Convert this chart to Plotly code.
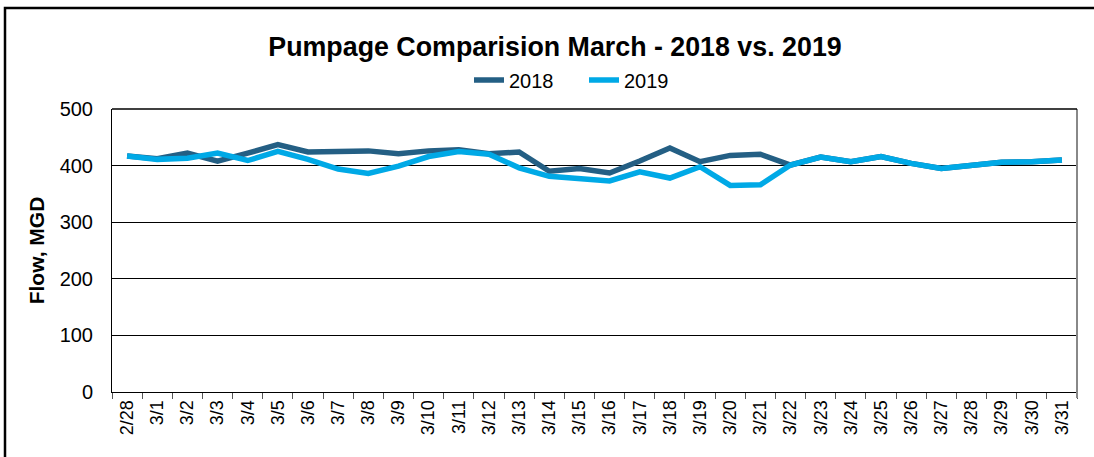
import plotly.graph_objects as go

dates = ["2/28"] + [f"3/{d}" for d in range(1, 32)]

flow_2018 = [417, 412, 422, 408, 422, 437, 424, 426, 426, 421, 426, 428, 421, 424,
             390, 395, 387, 408, 431, 407, 418, 420, 401, 415, 407, 416, 404, 395,
             401, 406, 407, 410]
flow_2019 = [417, 411, 413, 422, 409, 425, 411, 394, 386, 399, 416, 425, 420, 396,
             381, 377, 373, 389, 378, 398, 365, 366, 401, 415, 407, 416, 404, 395,
             401, 406, 407, 410]

y_ticks = [0, 100, 200, 300, 400, 500]

FONT = "Liberation Sans, Arial, sans-serif"

W, H = 1094, 457
L, R, T, B = 112, 1077, 109, 392
pw, ph = R - L, B - T

def px(x):
    return (x - L) / pw

def py(y):
    return (B - y) / ph

fig = go.Figure()
fig.add_trace(go.Scatter(x=dates, y=flow_2018, name="2018", mode="lines",
                         line=dict(color="#245F84", width=5.5), legend="legend"))
fig.add_trace(go.Scatter(x=dates, y=flow_2019, name="2019", mode="lines",
                         line=dict(color="#00A9E6", width=5.5), legend="legend2"))

leg_common = dict(orientation="h", yanchor="middle", y=py(80), xanchor="center",
                  font=dict(family=FONT, size=20, color="black"),
                  bgcolor="rgba(0,0,0,0)", tracegroupgap=0)

fig.update_layout(
    width=W, height=H,
    margin=dict(l=L, r=W - R, t=T, b=H - B, pad=0),
    paper_bgcolor="white", plot_bgcolor="white",
    font=dict(family=FONT, size=20, color="black"),
    title=dict(text="<b>Pumpage Comparision March - 2018 vs. 2019</b>",
               x=555 / W, xanchor="center", y=1 - 47 / H, yanchor="middle",
               font=dict(family=FONT, size=26.8, color="black")),
    showlegend=True,
    legend=dict(x=px(514), **leg_common),
    legend2=dict(x=px(629), **leg_common),
    xaxis=dict(type="category", tickson="boundaries", ticks="outside", ticklen=6,
               tickcolor="#555", tickangle=-90, showgrid=False, showline=True,
               linecolor="black", linewidth=1, range=[-0.5, len(dates) - 0.5],
               tickfont=dict(family=FONT, size=18, color="black"), zeroline=False),
    yaxis=dict(range=[0, 500], tickvals=y_ticks, showgrid=True, gridcolor="black",
               gridwidth=1, showline=True, linecolor="black", linewidth=1,
               ticks="", ticklabelstandoff=14, zeroline=False,
               tickfont=dict(family=FONT, size=20, color="black"),
               title=dict(text="<b>Flow, MGD</b>", standoff=9,
                          font=dict(family=FONT, size=21, color="black"))),
    shapes=[
        dict(type="line", xref="paper", yref="paper", x0=1, x1=1, y0=-6 / ph, y1=1,
             line=dict(color="#888888", width=2)),
        dict(type="line", xref="paper", yref="paper", x0=0, x1=1, y0=1, y1=1,
             line=dict(color="black", width=1.5)),
        dict(type="rect", xref="paper", yref="paper", x0=px(5), x1=px(1100),
             y0=py(470), y1=py(8), line=dict(color="black", width=2.5),
             fillcolor="rgba(0,0,0,0)", layer="below"),
    ],
)

fig.write_html("out.html", config={"displayModeBar": False},
               post_script="document.body.style.margin='0';document.body.style.overflow='hidden';")
